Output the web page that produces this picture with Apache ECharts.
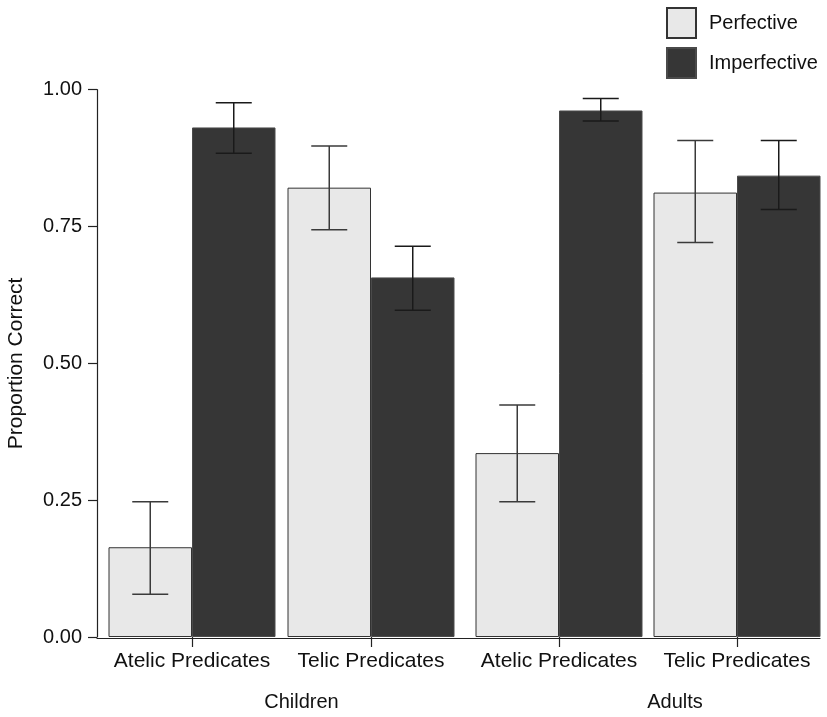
<!DOCTYPE html>
<html>
<head>
<meta charset="utf-8">
<script src="https://cdn.jsdelivr.net/npm/echarts@6/dist/echarts.min.js"></script>
<style>
  html, body { margin: 0; padding: 0; background: #fff; }
  #chart { width: 827px; height: 717px; }
</style>
</head>
<body>
<div id="chart"></div>
<script>
// Predicate types shown under each bar pair, and the two age groups
const predicates = ['Atelic Predicates', 'Telic Predicates'];
const groups = ['Children', 'Adults'];
const aspects = ['Perfective', 'Imperfective'];

// Mean proportion correct per predicate type
const childrenPerfective = [0.164, 0.821];
const childrenImperfective = [0.931, 0.657];
const adultsPerfective = [0.336, 0.812];
const adultsImperfective = [0.962, 0.843];

// Error bar ranges [low, high] per predicate type
const childrenPerfectiveErr = [[0.078, 0.247], [0.744, 0.897]];
const childrenImperfectiveErr = [[0.884, 0.976], [0.597, 0.714]];
const adultsPerfectiveErr = [[0.247, 0.424], [0.721, 0.907]];
const adultsImperfectiveErr = [[0.943, 0.984], [0.781, 0.907]];

// Y axis ticks
const yTicks = [0, 0.25, 0.5, 0.75, 1.0];

const FONT = "'Liberation Sans', Arial, Helvetica, sans-serif";
const PERF_COLOR = '#e8e8e8';
const IMPERF_COLOR = '#363636';
const BAR_W = 83.5;
const CAP_HALF = 18;

const chart = echarts.init(document.getElementById('chart'), null, { renderer: 'canvas' });

function errorSeries(name, gridIdx, side, ranges, color) {
  return {
    type: 'custom',
    name: name + ' error',
    xAxisIndex: gridIdx,
    yAxisIndex: gridIdx,
    z: 10,
    silent: true,
    data: ranges.map((r, i) => [i, r[0], r[1]]),
    renderItem: function (params, api) {
      const lo = api.coord([api.value(0), api.value(1)]);
      const hi = api.coord([api.value(0), api.value(2)]);
      const x = lo[0] + side * BAR_W / 2;
      const style = { stroke: color, lineWidth: 1.5, fill: null };
      return {
        type: 'group',
        children: [
          { type: 'line', shape: { x1: x, y1: hi[1], x2: x, y2: lo[1] }, style: style },
          { type: 'line', shape: { x1: x - CAP_HALF, y1: hi[1], x2: x + CAP_HALF, y2: hi[1] }, style: style },
          { type: 'line', shape: { x1: x - CAP_HALF, y1: lo[1], x2: x + CAP_HALF, y2: lo[1] }, style: style }
        ]
      };
    }
  };
}

function barSeries(name, gridIdx, values, color, border) {
  return {
    type: 'bar',
    name: name,
    xAxisIndex: gridIdx,
    yAxisIndex: gridIdx,
    barWidth: BAR_W,
    barGap: '0%',
    data: values,
    itemStyle: { color: color, borderColor: border, borderWidth: 1 },
    emphasis: { disabled: true }
  };
}

function catAxis(gridIdx, groupName, shift) {
  return {
    type: 'category',
    gridIndex: gridIdx,
    data: predicates,
    axisLine: { show: false },
    axisTick: { show: true, interval: 0, alignWithLabel: true, length: 10, lineStyle: { color: '#222', width: 1.2 } },
    axisLabel: { interval: 0, margin: 14, fontSize: 21, color: '#111', fontFamily: FONT, hideOverlap: false },
    name: groupName,
    nameLocation: 'middle',
    nameGap: 55,
    nameTextStyle: { fontSize: 20, color: '#111', fontFamily: FONT, padding: [0, 0, 0, shift] }
  };
}

const option = {
  backgroundColor: '#ffffff',
  animation: false,
  textStyle: { fontFamily: FONT },
  legend: {
    data: aspects,
    orient: 'vertical',
    left: 666,
    top: 7,
    padding: 0,
    itemWidth: 29,
    itemHeight: 30,
    itemGap: 8,
    icon: 'rect',
    selectedMode: false,
    textStyle: { fontSize: 20, color: '#111', fontFamily: FONT, padding: [0, 0, 0, 8] }
  },
  grid: [
    { left: 102.5, width: 358, top: 89.7, bottom: 78.7 },
    { left: 470, width: 356, top: 89.7, bottom: 78.7 },
    { left: 97, right: 7, top: 89.7, bottom: 78.7 }
  ],
  xAxis: [
    catAxis(0, groups[0], 40),
    catAxis(1, groups[1], 54),
    {
      type: 'value', gridIndex: 2, min: 0, max: 1,
      axisLine: { show: true, lineStyle: { color: '#222', width: 1.2 } },
      axisTick: { show: false }, axisLabel: { show: false }, splitLine: { show: false }
    }
  ],
  yAxis: [
    {
      type: 'value',
      gridIndex: 0,
      min: yTicks[0],
      max: yTicks[yTicks.length - 1],
      interval: 0.25,
      offset: 5.5,
      axisLine: { show: true, lineStyle: { color: '#222', width: 1.2 } },
      axisTick: { show: true, length: 9, lineStyle: { color: '#222', width: 1.2 } },
      axisLabel: { margin: 15, fontSize: 20, color: '#111', fontFamily: FONT,
        formatter: v => v.toFixed(2) },
      splitLine: { show: false },
      name: 'Proportion Correct',
      nameLocation: 'middle',
      nameGap: 70,
      nameTextStyle: { fontSize: 21, color: '#111', fontFamily: FONT }
    },
    {
      type: 'value', gridIndex: 1, min: 0, max: 1, interval: 0.25,
      show: false, splitLine: { show: false }
    },
    {
      type: 'value', gridIndex: 2, min: 0, max: 1,
      show: false, splitLine: { show: false }
    }
  ],
  series: [
    barSeries(aspects[0], 0, childrenPerfective, PERF_COLOR, '#333'),
    barSeries(aspects[1], 0, childrenImperfective, IMPERF_COLOR, '#4a4a4a'),
    barSeries(aspects[0], 1, adultsPerfective, PERF_COLOR, '#333'),
    barSeries(aspects[1], 1, adultsImperfective, IMPERF_COLOR, '#4a4a4a'),
    errorSeries(aspects[0], 0, -1, childrenPerfectiveErr, '#3a3a3a'),
    errorSeries(aspects[1], 0, 1, childrenImperfectiveErr, '#1a1a1a'),
    errorSeries(aspects[0], 1, -1, adultsPerfectiveErr, '#3a3a3a'),
    errorSeries(aspects[1], 1, 1, adultsImperfectiveErr, '#1a1a1a')
  ]
};

chart.setOption(option);
</script>
</body>
</html>
